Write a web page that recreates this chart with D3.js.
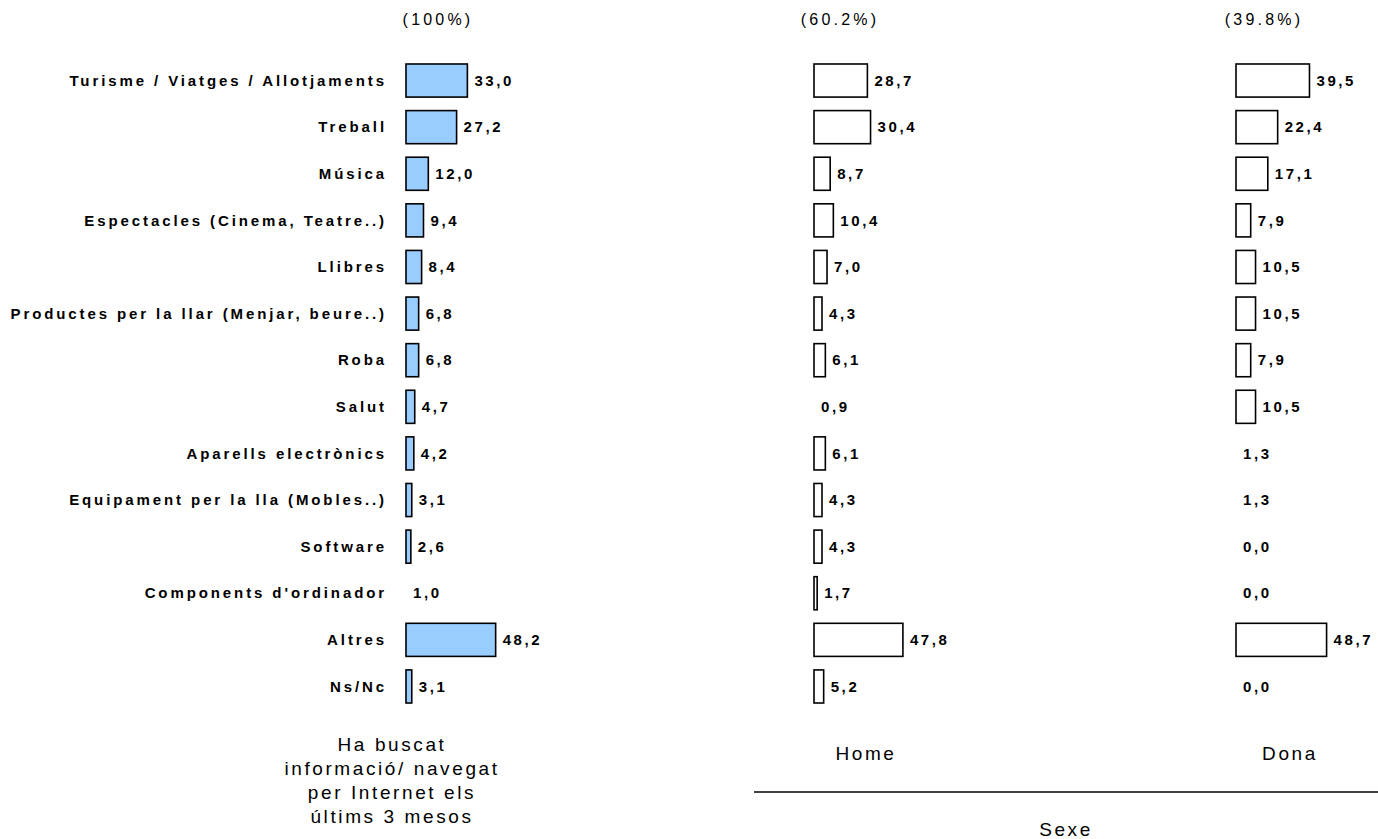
<!DOCTYPE html>
<html>
<head>
<meta charset="utf-8">
<script src="https://cdn.jsdelivr.net/npm/d3@7"></script>
<style>
  body { margin: 0; background: #fff; }
  svg text { font-family: "Liberation Sans", Arial, sans-serif; fill: #000; }
</style>
</head>
<body>
<div id="chart"></div>
<script>
const categories = [
  "Turisme / Viatges / Allotjaments", "Treball", "Música", "Espectacles (Cinema, Teatre..)",
  "Llibres", "Productes per la llar (Menjar, beure..)", "Roba", "Salut",
  "Aparells electrònics", "Equipament per la lla (Mobles..)", "Software",
  "Components d'ordinador", "Altres", "Ns/Nc"
];
const totalValues = [33.0, 27.2, 12.0, 9.4, 8.4, 6.8, 6.8, 4.7, 4.2, 3.1, 2.6, 1.0, 48.2, 3.1];
const homeValues  = [28.7, 30.4, 8.7, 10.4, 7.0, 4.3, 6.1, 0.9, 6.1, 4.3, 4.3, 1.7, 47.8, 5.2];
const donaValues  = [39.5, 22.4, 17.1, 7.9, 10.5, 10.5, 7.9, 10.5, 1.3, 1.3, 0.0, 0.0, 48.7, 0.0];
const shares = ["(100%)", "(60.2%)", "(39.8%)"];
const panelNames = [["Ha buscat", "informació/ navegat", "per Internet els", "últims 3 mesos"], ["Home"], ["Dona"]];
const groupLabel = "Sexe";

const width = 1378, height = 839;

const svg = d3.select("#chart").append("svg")
  .attr("width", width)
  .attr("height", height);

const y = d3.scaleBand()
  .domain(categories)
  .range([57, 710])
  .paddingInner(0.29)
  .paddingOuter(0.15);

const x = d3.scaleLinear().domain([0, 50]).range([0, 93]);

const panels = [
  {values: totalValues, x0: 406, fill: "#99ccff", headX: 438},
  {values: homeValues, x0: 814, fill: "#ffffff", headX: 840},
  {values: donaValues, x0: 1236, fill: "#ffffff", headX: 1264}
];

// category labels
svg.append("g").selectAll("text")
  .data(categories)
  .join("text")
  .attr("x", 387)
  .attr("y", d => y(d) + y.bandwidth() / 2)
  .attr("dy", "0.35em")
  .attr("text-anchor", "end")
  .style("font-size", "15px")
  .style("font-weight", "bold")
  .style("letter-spacing", "2.9px")
  .text(d => d);

panels.forEach((p, i) => {
  const g = svg.append("g").attr("transform", "translate(" + p.x0 + ",0)");
  const rows = categories.map((c, j) => ({cat: c, v: p.values[j]}));

  g.selectAll("rect")
    .data(rows.filter(d => d.v >= 1.5))
    .join("rect")
    .attr("x", 0)
    .attr("y", d => y(d.cat))
    .attr("width", d => x(d.v))
    .attr("height", y.bandwidth())
    .attr("fill", p.fill)
    .attr("stroke", "#000")
    .attr("stroke-width", 1.6);

  g.selectAll("text.val")
    .data(rows)
    .join("text")
    .attr("class", "val")
    .attr("x", d => (d.v >= 1.5 ? x(d.v) : 0) + 7)
    .attr("y", d => y(d.cat) + y.bandwidth() / 2)
    .attr("dy", "0.35em")
    .style("font-size", "15px")
    .style("font-weight", "bold")
    .style("letter-spacing", "2.6px")
    .text(d => d3.format(".1f")(d.v).replace(".", ","));

  // share header
  svg.append("text")
    .attr("x", p.headX)
    .attr("y", 25)
    .attr("text-anchor", "middle")
    .style("font-size", "16px")
    .style("letter-spacing", "3.2px")
    .text(shares[i]);
});

// panel names
svg.append("text")
  .attr("text-anchor", "middle")
  .style("font-size", "19px")
  .style("letter-spacing", "2.6px")
  .selectAll("tspan")
  .data(panelNames[0])
  .join("tspan")
  .attr("x", 392)
  .attr("y", (d, i) => 751 + i * 24)
  .text(d => d);

[[866, panelNames[1][0]], [1290, panelNames[2][0]]].forEach(([cx, t]) => {
  svg.append("text")
    .attr("x", cx)
    .attr("y", 760)
    .attr("text-anchor", "middle")
    .style("font-size", "19px")
    .style("letter-spacing", "2.6px")
    .text(t);
});

svg.append("line")
  .attr("x1", 754).attr("x2", 1378)
  .attr("y1", 792).attr("y2", 792)
  .attr("stroke", "#000")
  .attr("stroke-width", 1.6);

svg.append("text")
  .attr("x", 1066)
  .attr("y", 836)
  .attr("text-anchor", "middle")
  .style("font-size", "19px")
  .style("letter-spacing", "2.6px")
  .text(groupLabel);
</script>
</body>
</html>
